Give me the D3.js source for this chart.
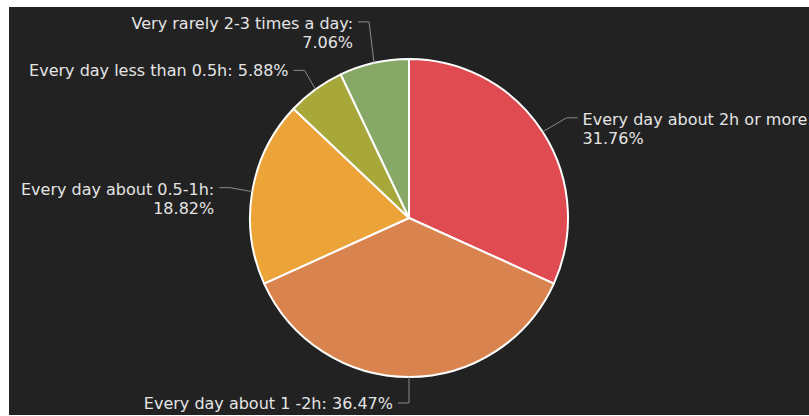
<!DOCTYPE html>
<html>
<head>
<meta charset="utf-8">
<script src="https://cdn.jsdelivr.net/npm/d3@7"></script>
<style>
  html, body { margin: 0; padding: 0; background: #ffffff; }
  svg { display: block; }
</style>
</head>
<body>
<svg id="chart" width="809" height="416"></svg>
<script>
// Survey answers: how often people use the service
const categories = [
  "Every day about 2h or more",
  "Every day about 1 -2h",
  "Every day about 0.5-1h",
  "Every day less than 0.5h",
  "Very rarely 2-3 times a day"
];
const percents = [31.76, 36.47, 18.82, 5.88, 7.06];
const colors = ["#df4b51", "#d9844f", "#eca338", "#a8a83a", "#87a866"];

// Label layout: whether the value goes on its own line, and where the leader line bends
const wrapLabel = [true, false, true, false, true];
const elbowOffset = [[24, -14], [0, 26], [-22, -4], [-11, -19], [-5, -41]];

const svg = d3.select("#chart");
const W = 809, H = 416;

// dark panel
const panel = { x: 9, y: 7, w: 800, h: 408 };
svg.append("rect")
  .attr("x", panel.x).attr("y", panel.y)
  .attr("width", panel.w).attr("height", panel.h)
  .attr("fill", "#222222");

const cx = 409, cy = 218, radius = 159;
const g = svg.append("g").attr("transform", `translate(${cx},${cy})`);

const data = categories.map((c, i) => ({ name: c, value: percents[i], i }));
const pie = d3.pie().value(d => d.value).sort(null).startAngle(0).endAngle(2 * Math.PI);
const arcs = pie(data);

const arc = d3.arc().innerRadius(0).outerRadius(radius);
const edgeArc = d3.arc().innerRadius(radius).outerRadius(radius);

g.selectAll("path.slice")
  .data(arcs)
  .enter().append("path")
  .attr("class", "slice")
  .attr("d", arc)
  .attr("fill", d => colors[d.data.i])
  .attr("stroke", "#ffffff")
  .attr("stroke-width", 2)
  .attr("stroke-linejoin", "round");

const fmt = d3.format(".2f");
const tail = 11, gap = 5, lineH = 19;

arcs.forEach(d => {
  const i = d.data.i;
  const p0 = edgeArc.centroid(d);
  const p1 = [p0[0] + elbowOffset[i][0], p0[1] + elbowOffset[i][1]];
  const mid = (d.startAngle + d.endAngle) / 2;
  const right = Math.sin(mid) > 0.001;
  const dir = right ? 1 : -1;
  const p2 = [p1[0] + dir * tail, p1[1]];

  g.append("polyline")
    .attr("points", [p0, p1, p2].map(p => p.join(",")).join(" "))
    .attr("fill", "none")
    .attr("stroke", "#8a8a8a")
    .attr("stroke-width", 1);

  const label = `${d.data.name}: ${fmt(d.data.value)}%`;
  const lines = wrapLabel[i]
    ? [`${d.data.name}:`, `${fmt(d.data.value)}%`]
    : [label];

  const t = g.append("text")
    .attr("x", p2[0] + dir * gap)
    .attr("y", p2[1] + (lines.length > 1 ? 7 : 5.5))
    .attr("text-anchor", right ? "start" : "end")
    .attr("fill", "#e4e4e4")
    .style("font-family", "'DejaVu Sans', Verdana, sans-serif")
    .style("font-size", "16px");
  lines.forEach((ln, k) => {
    t.append("tspan")
      .attr("x", p2[0] + dir * gap)
      .attr("dy", k === 0 ? 0 : lineH)
      .text(ln);
  });
});
</script>
</body>
</html>
